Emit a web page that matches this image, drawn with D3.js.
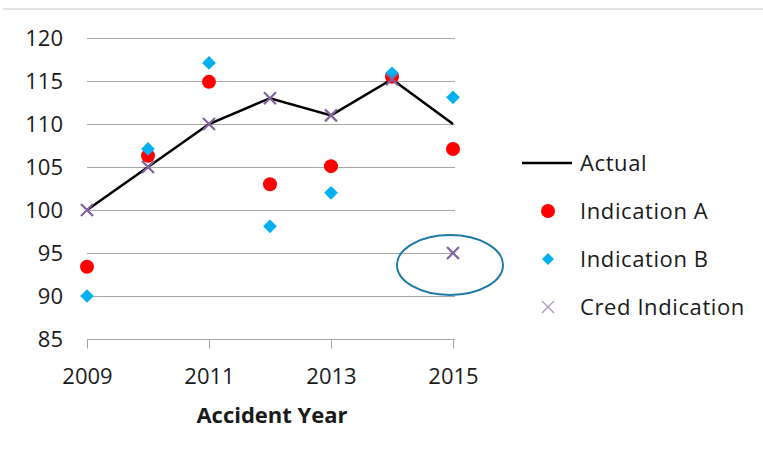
<!DOCTYPE html>
<html>
<head>
<meta charset="utf-8">
<script src="https://cdn.jsdelivr.net/npm/d3@7"></script>
<style>
  html, body { margin: 0; padding: 0; background: #fff; }
  text { font-family: "Open Sans", sans-serif; fill: #1a1a1a; }
</style>
</head>
<body>
<svg id="chart" width="763" height="459"></svg>
<script>
// Accident years and the four series
const years = [2009, 2010, 2011, 2012, 2013, 2014, 2015];
const actual = [100, 105, 110, 113, 111, 115.2, 110];
const indicationA = [93.4, 106.3, 114.9, 103, 105.1, 115.5, 107.1];
const indicationB = [90, 107.1, 117.1, 98.1, 102, 115.9, 113.1];
const credIndication = [100, 105, 110, 113, 111, 115.2, 95];
const yTicks = [85, 90, 95, 100, 105, 110, 115, 120];
const xTicks = [2009, 2011, 2013, 2015];
const legendItems = ["Actual", "Indication A", "Indication B", "Cred Indication"];

const FONT = 22;
const svg = d3.select("#chart");

const x = d3.scaleLinear().domain([2009, 2015]).range([87, 453]);
const y = d3.scaleLinear().domain([85, 120]).range([339, 38]);

// frame line across the top
svg.append("line").attr("x1", 3).attr("x2", 763).attr("y1", 9).attr("y2", 9)
  .attr("stroke", "#c8c8c8").attr("stroke-width", 1);

// horizontal gridlines
svg.append("g").selectAll("line").data(yTicks.slice(1)).join("line")
  .attr("x1", x(2009)).attr("x2", x(2015) + 2)
  .attr("y1", d => Math.round(y(d)) + 0.5).attr("y2", d => Math.round(y(d)) + 0.5)
  .attr("stroke", "#a6a6a6").attr("stroke-width", 1);

// x axis
const xAxis = d3.axisBottom(x).tickValues(xTicks).tickFormat(d3.format("d"))
  .tickSize(9).tickSizeOuter(0);
const gx = svg.append("g").attr("transform", `translate(0,${Math.round(y(85)) + 0.5})`).call(xAxis);
gx.select(".domain").attr("stroke", "#a6a6a6").attr("d", `M${x(2009)},0H${x(2015) + 2}`);
gx.selectAll(".tick line").attr("stroke", "#a6a6a6");
gx.selectAll(".tick text").attr("font-size", FONT).attr("y", 44).attr("dy", 0)
  .attr("font-family", "'Open Sans', sans-serif").attr("fill", "#1a1a1a");

// y axis labels
const yAxis = d3.axisLeft(y).tickValues(yTicks).tickSize(0).tickPadding(0);
const gy = svg.append("g").attr("transform", "translate(63,0)").call(yAxis);
gy.select(".domain").remove();
gy.selectAll(".tick text").attr("font-size", FONT).attr("font-family", "'Open Sans', sans-serif")
  .attr("fill", "#1a1a1a");

// axis title
svg.append("text").attr("x", 272).attr("y", 423).attr("text-anchor", "middle")
  .attr("font-size", FONT).attr("font-weight", "bold").text("Accident Year");

// Actual line
const line = d3.line().x((d, i) => x(years[i])).y(d => y(d));
svg.append("path").datum(actual).attr("d", line)
  .attr("fill", "none").attr("stroke", "#000").attr("stroke-width", 2.5);

// Indication A circles
svg.append("g").selectAll("circle").data(indicationA).join("circle")
  .attr("cx", (d, i) => x(years[i])).attr("cy", d => y(d)).attr("r", 7)
  .attr("fill", "#ff0000");

// Indication B diamonds
const diamond = d3.symbol().type(d3.symbolDiamond2).size(120);
svg.append("g").selectAll("path").data(indicationB).join("path")
  .attr("d", diamond)
  .attr("transform", (d, i) => `translate(${x(years[i])},${y(d)})`)
  .attr("fill", "#00b0f0");

// Cred indication crosses
const cross = (g, s) => g.append("path")
  .attr("d", `M${-s},${-s}L${s},${s}M${-s},${s}L${s},${-s}`);
svg.append("g").selectAll("g").data(credIndication).join("g")
  .attr("transform", (d, i) => `translate(${x(years[i])},${y(d)})`)
  .each(function () { cross(d3.select(this), 6).attr("stroke", "#8064a2").attr("stroke-width", 2.2); });

// highlight ellipse around the 2015 credibility-weighted point
svg.append("ellipse").attr("cx", 450).attr("cy", 265).attr("rx", 53).attr("ry", 30)
  .attr("fill", "none").attr("stroke", "#1b7aa6").attr("stroke-width", 2);

// legend
const lg = svg.append("g");
const ly = [163, 211, 259, 307];
lg.append("line").attr("x1", 522).attr("x2", 572).attr("y1", ly[0]).attr("y2", ly[0])
  .attr("stroke", "#000").attr("stroke-width", 2.5);
lg.append("circle").attr("cx", 548).attr("cy", ly[1]).attr("r", 7).attr("fill", "#ff0000");
lg.append("path").attr("d", d3.symbol().type(d3.symbolDiamond2).size(90))
  .attr("transform", `translate(548,${ly[2]})`).attr("fill", "#00b0f0");
cross(lg.append("g").attr("transform", `translate(548,${ly[3]})`), 6)
  .attr("stroke", "#a896c8").attr("stroke-width", 1.3);
lg.selectAll("text").data(legendItems).join("text")
  .attr("x", 580).attr("y", (d, i) => ly[i]).attr("dy", "0.35em")
  .attr("font-size", FONT).attr("letter-spacing", 0.6).text(d => d);
</script>
</body>
</html>
